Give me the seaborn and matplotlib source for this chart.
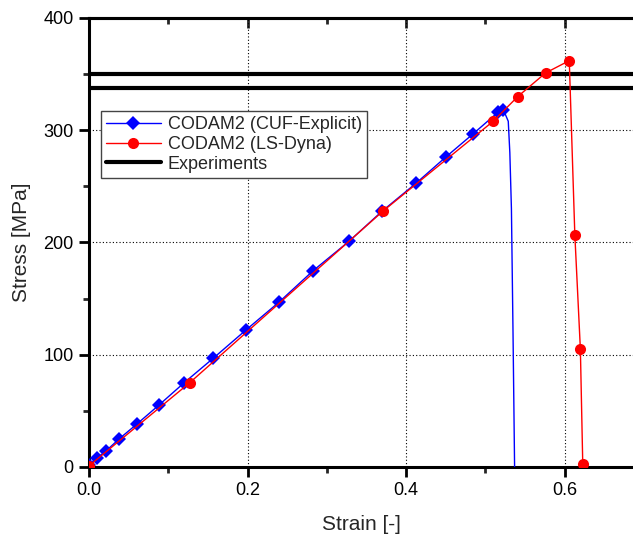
import pandas as pd
import matplotlib
matplotlib.use("Agg")
import matplotlib.pyplot as plt
import seaborn as sns
from matplotlib.ticker import MultipleLocator, FormatStrFormatter
from matplotlib.lines import Line2D

# data
cuf_strain = [0.0, 0.010, 0.021, 0.038, 0.060, 0.088, 0.120, 0.157, 0.198, 0.240,
              0.283, 0.328, 0.370, 0.413, 0.450, 0.485, 0.516, 0.523]
cuf_stress = [2, 8, 14, 25, 38, 55, 75, 97, 122, 147,
              175, 201, 228, 253, 276, 297, 316, 318]
cuf_tail_strain = [0.523, 0.529, 0.531, 0.533, 0.535, 0.537]
cuf_tail_stress = [318, 308, 280, 230, 120, 0]

ls_strain = [0.0, 0.127, 0.371, 0.510, 0.541, 0.576, 0.606, 0.613, 0.620, 0.623]
ls_stress = [1, 75, 228, 308, 330, 351, 362, 207, 105, 3]

exp_stress = [350, 338]

sns.set_style("white")
plt.rcParams['font.family'] = ['Liberation Sans', 'DejaVu Sans']

fig = plt.figure(figsize=(6.33, 5.37), dpi=100)
ax = fig.add_axes([0.1406, 0.1304, 0.8594, 0.8361])

df_cuf = pd.DataFrame({'strain': cuf_strain, 'stress': cuf_stress})
df_tail = pd.DataFrame({'strain': cuf_tail_strain, 'stress': cuf_tail_stress})
df_ls = pd.DataFrame({'strain': ls_strain, 'stress': ls_stress})

for s in exp_stress:
    ax.axhline(s, color='black', lw=3, zorder=2)

sns.lineplot(data=df_tail, x='strain', y='stress', ax=ax, color='blue', lw=1,
             estimator=None, sort=False, zorder=3)
sns.lineplot(data=df_cuf, x='strain', y='stress', ax=ax, color='blue', lw=1,
             marker='D', markersize=7, markeredgewidth=0, estimator=None, sort=False, zorder=3)
sns.lineplot(data=df_ls, x='strain', y='stress', ax=ax, color='red', lw=1,
             marker='o', markersize=8, markeredgewidth=0, estimator=None, sort=False, zorder=4)

ax.set_xlim(0, 0.6864)
ax.set_ylim(0, 400)
ax.xaxis.set_major_locator(MultipleLocator(0.2))
ax.xaxis.set_minor_locator(MultipleLocator(0.1))
ax.yaxis.set_major_locator(MultipleLocator(100))
ax.yaxis.set_minor_locator(MultipleLocator(50))
ax.xaxis.set_major_formatter(FormatStrFormatter('%.1f'))

ax.grid(True, which='major', color='black', ls=(0, (1, 2)), lw=0.8)
for sp in ['left', 'bottom', 'top']:
    ax.spines[sp].set_linewidth(2.2)
    ax.spines[sp].set_color('black')
ax.spines['right'].set_visible(False)

ax.tick_params(axis='both', which='major', direction='out', length=7, width=2,
               labelsize=13, colors='black', pad=4, left=True, bottom=True)
ax.tick_params(axis='both', which='minor', direction='out', length=4, width=2,
               left=True, bottom=True)

# mirrored top ticks, pointing inward
top = ax.secondary_xaxis('top')
top.xaxis.set_major_locator(MultipleLocator(0.2))
top.xaxis.set_minor_locator(MultipleLocator(0.1))
top.tick_params(which='major', direction='in', length=7, width=2, labeltop=False)
top.tick_params(which='minor', direction='in', length=4, width=2)
top.spines['top'].set_linewidth(2.2)

ax.set_xlabel('Strain [-]', fontsize=15, labelpad=11)
ax.set_ylabel('Stress [MPa]', fontsize=15, labelpad=9)

handles = [
    Line2D([], [], color='blue', lw=1, marker='D', markersize=7, markeredgewidth=0),
    Line2D([], [], color='red', lw=1, marker='o', markersize=8, markeredgewidth=0),
    Line2D([], [], color='black', lw=3),
]
labels = ['CODAM2 (CUF-Explicit)', 'CODAM2 (LS-Dyna)', 'Experiments']
leg = ax.legend(handles, labels, loc='upper left', bbox_to_anchor=(0.022, 0.793),
                fontsize=13, frameon=True, fancybox=False, framealpha=1,
                edgecolor='#444444', borderpad=0.3, labelspacing=0.15,
                handlelength=3.0, handletextpad=0.4, borderaxespad=0)
leg.get_frame().set_linewidth(1)

fig.savefig('out.png', dpi=100)
